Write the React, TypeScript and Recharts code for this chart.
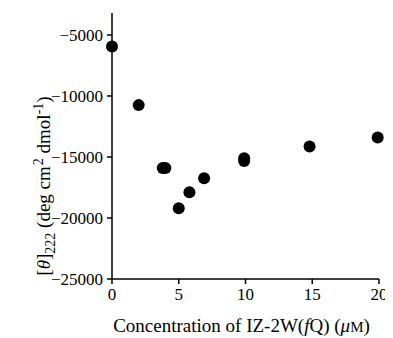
import React from "react";
import { ScatterChart, Scatter, XAxis, YAxis } from "recharts";

const concentrations = [0, 2, 3.8, 4.0, 5, 5.8, 6.9, 9.9, 9.9, 14.8, 19.9];
const ellipticity = [-5950, -10750, -15900, -15900, -19200, -17900, -16750, -15100, -15330, -14150, -13400];
const xTicks = [0, 5, 10, 15, 20];
const yTicks = [-25000, -20000, -15000, -10000, -5000];

const data = concentrations.map((x, i) => ({ x, y: ellipticity[i] }));

const FONT = "'Liberation Serif', 'Times New Roman', serif";
const TICK_SIZE = 17;

const fmt = (v: number) => String(v).replace("-", "\u2212");

const Dot = (props: any) => {
  const { cx, cy } = props;
  if (cx == null || cy == null) return null;
  return <circle cx={cx} cy={cy} r={6} fill="#000" />;
};

const XTick = (props: any) => {
  const { x, y, payload } = props;
  return (
    <text x={x} y={y + 14} textAnchor="middle" fontFamily={FONT} fontSize={TICK_SIZE} fill="#000">
      {fmt(payload.value)}
    </text>
  );
};

const YTick = (props: any) => {
  const { x, y, payload } = props;
  return (
    <text x={x - 2} y={y + 6} textAnchor="end" fontFamily={FONT} fontSize={TICK_SIZE} fill="#000">
      {fmt(payload.value)}
    </text>
  );
};

const XLabel = (props: any) => {
  const vb = props.viewBox || {};
  const cx = vb.x + vb.width / 2 - 4;
  const y = vb.y + 53;
  return (
    <text x={cx} y={y} textAnchor="middle" fontFamily={FONT} fontSize={19} fill="#000">
      Concentration of IZ-2W(<tspan fontStyle="italic">f</tspan>Q) (<tspan fontStyle="italic">μ</tspan>
      <tspan fontSize={15}>M</tspan>)
    </text>
  );
};

const YLabel = () => {
  const x = 42;
  const y = 178;
  return (
    <text
      x={x}
      y={y}
      transform={`rotate(-90, ${x}, ${y})`}
      textAnchor="middle"
      fontFamily={FONT}
      fontSize={19}
      fill="#000"
      style={{ whiteSpace: "pre" }}
    >
      [<tspan fontStyle="italic">θ</tspan>]
      <tspan fontSize={14} dy={5}>222</tspan>
      <tspan dy={-5}>{" (deg cm"}</tspan>
      <tspan fontSize={14} dy={-7} dx={1}>2</tspan>
      <tspan dy={7}>{" dmol"}</tspan>
      <tspan fontSize={14} dy={-7}>-1</tspan>
      <tspan dy={7}>)</tspan>
    </text>
  );
};

export default function App() {
  return (
    <ScatterChart width={385} height={330} margin={{ top: 5, right: 14, left: 0, bottom: 0 }}>
      <XAxis
        type="number"
        dataKey="x"
        domain={[0, 20]}
        ticks={xTicks}
        height={59}
        stroke="#000"
        strokeWidth={1.5}
        tickSize={5}
        tick={<XTick />}
        tickLine={{ stroke: "#000", strokeWidth: 1.5 }}
        label={<XLabel />}
      />
      <YAxis
        type="number"
        dataKey="y"
        domain={[-25000, -3200]}
        ticks={yTicks}
        width={104}
        stroke="#000"
        strokeWidth={1.5}
        tickSize={5}
        allowDataOverflow
        tick={<YTick />}
        tickLine={{ stroke: "#000", strokeWidth: 1.5 }}
        label={<YLabel />}
      />
      <Scatter data={data} fill="#000" shape={<Dot />} isAnimationActive={false} />
    </ScatterChart>
  );
}
